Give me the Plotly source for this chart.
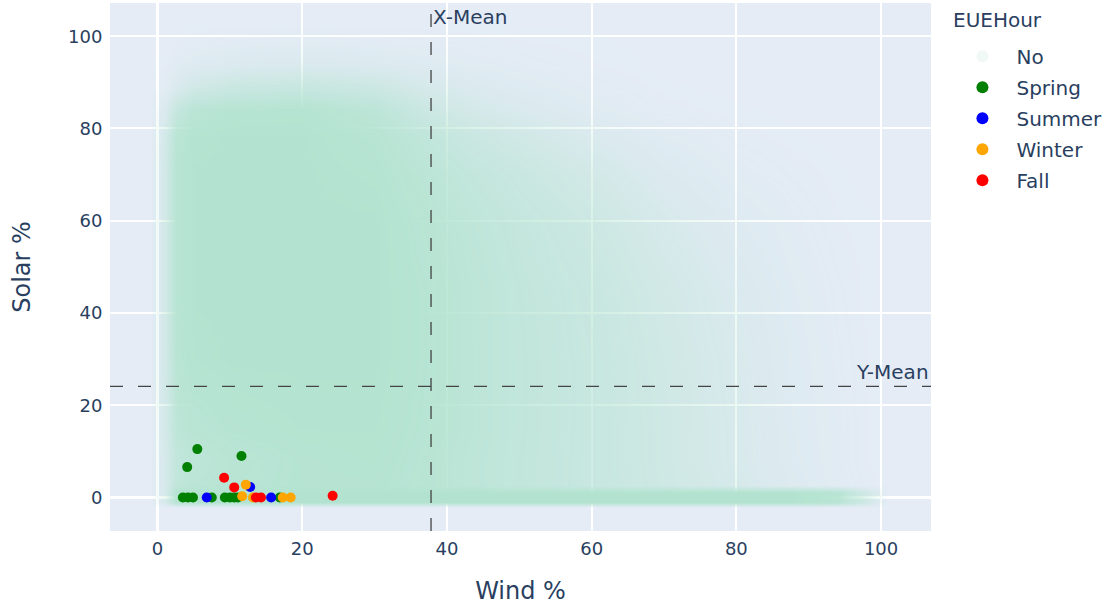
import plotly.graph_objects as go

# ---- "No" hours: density of the point cloud (0..1) ----
no_x = [-1, 1, 2.5, 5, 10, 20, 30, 37, 43, 50, 60, 70, 80, 88, 94, 98, 101]
no_y = [-2.2, -1.0, 1.2, 2.6, 8, 15, 30, 45, 60, 70, 78, 84, 89, 94, 99, 104]
no_density = [
    [0, 0, 0, 0, 0, 0, 0, 0, 0, 0, 0, 0, 0, 0, 0, 0, 0],
    [0, 0.3, 0.95, 1, 1, 1, 1, 1, 1, 1, 1, 1, 1, 1, 0.9, 0.4, 0],
    [0, 0.3, 0.95, 1, 1, 1, 1, 1, 1, 1, 1, 1, 1, 1, 0.9, 0.4, 0],
    [0, 0.3, 0.75, 0.85, 0.9, 0.95, 0.95, 0.9, 0.8, 0.7, 0.6, 0.46, 0.3, 0.15, 0.07, 0.03, 0],
    [0, 0.3, 0.7, 0.8, 0.88, 0.95, 0.97, 0.9, 0.8, 0.7, 0.6, 0.45, 0.27, 0.13, 0.06, 0.02, 0],
    [0, 0.35, 0.8, 0.9, 0.95, 0.98, 0.98, 0.92, 0.82, 0.71, 0.6, 0.45, 0.27, 0.12, 0.06, 0.02, 0],
    [0, 0.4, 0.9, 0.98, 1, 1, 1, 0.93, 0.82, 0.71, 0.6, 0.43, 0.25, 0.11, 0.05, 0.02, 0],
    [0, 0.4, 0.92, 1, 1, 1, 1, 0.93, 0.82, 0.7, 0.58, 0.39, 0.21, 0.09, 0.04, 0.01, 0],
    [0, 0.4, 0.92, 1, 1, 1, 1, 0.9, 0.78, 0.66, 0.5, 0.29, 0.13, 0.06, 0.02, 0.01, 0],
    [0, 0.4, 0.92, 1, 1, 1, 0.97, 0.84, 0.7, 0.57, 0.38, 0.18, 0.07, 0.03, 0.01, 0, 0],
    [0, 0.36, 0.88, 0.98, 1, 1, 0.93, 0.74, 0.56, 0.42, 0.23, 0.09, 0.03, 0.01, 0, 0, 0],
    [0, 0.22, 0.62, 0.88, 0.95, 0.96, 0.82, 0.52, 0.35, 0.23, 0.1, 0.03, 0.01, 0, 0, 0, 0],
    [0, 0.06, 0.22, 0.4, 0.55, 0.6, 0.5, 0.3, 0.2, 0.12, 0.05, 0.01, 0, 0, 0, 0, 0],
    [0, 0.02, 0.07, 0.12, 0.18, 0.22, 0.18, 0.12, 0.08, 0.05, 0.02, 0, 0, 0, 0, 0, 0],
    [0, 0, 0.02, 0.03, 0.05, 0.06, 0.05, 0.04, 0.03, 0.02, 0.01, 0, 0, 0, 0, 0, 0],
    [0, 0, 0, 0, 0, 0, 0, 0, 0, 0, 0, 0, 0, 0, 0, 0, 0],
]

# ---- EUE hours by season ----
spring_x = [5.5, 4.1, 11.6, 3.5, 4.2, 4.9, 7.5, 9.3, 10.0, 10.6, 11.1, 16.9]
spring_y = [10.5, 6.6, 9.0, 0, 0, 0, 0, 0, 0, 0, 0, 0]
summer_x = [6.8, 12.8, 15.7]
summer_y = [0, 2.3, 0]
winter_x = [12.2, 11.7, 13.2, 17.3, 18.4]
winter_y = [2.8, 0.3, 0, 0, 0]
fall_x = [9.2, 10.6, 13.6, 14.3, 24.2]
fall_y = [4.3, 2.2, 0, 0, 0.4]

x_mean = 37.8
y_mean = 24.1

cloud_rgb = "179,227,208"
font_family = "Verdana, 'DejaVu Sans', sans-serif"
text_color = "#2a3f5f"

fig = go.Figure()

fig.add_trace(go.Heatmap(
    x=no_x, y=no_y, z=no_density,
    zmin=0, zmax=1, zsmooth="best",
    colorscale=[[0, f"rgba({cloud_rgb},0)"], [1, f"rgba({cloud_rgb},1)"]],
    showscale=False, hoverinfo="skip", showlegend=False,
))

fig.add_trace(go.Scatter(
    x=[None], y=[None], mode="markers", name="No", legendgroup="No",
    marker=dict(color=f"rgb({cloud_rgb})", size=9, opacity=0.12),
))

for name, xs, ys, color in [
    ("Spring", spring_x, spring_y, "green"),
    ("Summer", summer_x, summer_y, "blue"),
    ("Winter", winter_x, winter_y, "orange"),
    ("Fall", fall_x, fall_y, "red"),
]:
    fig.add_trace(go.Scatter(
        x=xs, y=ys, mode="markers", name=name, legendgroup=name,
        marker=dict(color=color, size=10),
    ))

fig.add_vline(x=x_mean, line=dict(color="#444", width=1.3, dash="13px,15px"),
              annotation_text="X-Mean", annotation_position="top right",
              annotation_font=dict(size=20, color=text_color, family=font_family))
fig.add_hline(y=y_mean, line=dict(color="#444", width=1.3, dash="13px,15px"),
              annotation_text="Y-Mean", annotation_position="top right",
              annotation_font=dict(size=20, color=text_color, family=font_family))

# legend title
fig.add_annotation(text="EUEHour", xref="paper", yref="paper", x=1.0245, y=0.968,
                   xanchor="left", yanchor="middle", showarrow=False,
                   font=dict(size=20, color=text_color, family=font_family))

fig.update_layout(
    template="plotly",
    width=1109, height=607,
    margin=dict(l=110, r=177, t=3, b=76),
    font=dict(family=font_family, size=18, color=text_color),
    plot_bgcolor="#E5ECF6",
    legend=dict(font=dict(size=20), tracegroupgap=2, itemwidth=58,
                itemsizing="constant", y=0.936, yanchor="top"),
    xaxis=dict(range=[-6.57, 106.9],
               title=dict(text="Wind %", font=dict(size=24), standoff=24),
               tickvals=[0, 20, 40, 60, 80, 100], gridcolor="white", gridwidth=1.5,
               ticks="outside", ticklen=1, tickcolor="rgba(0,0,0,0)",
               zeroline=True, zerolinecolor="white", zerolinewidth=3),
    yaxis=dict(range=[-7.25, 107.2],
               title=dict(text="Solar %", font=dict(size=24), standoff=30),
               tickvals=[0, 20, 40, 60, 80, 100], gridcolor="white", gridwidth=1.5,
               ticks="outside", ticklen=3, tickcolor="rgba(0,0,0,0)",
               zeroline=True, zerolinecolor="white", zerolinewidth=3),
)

fig.write_html("out.html")
